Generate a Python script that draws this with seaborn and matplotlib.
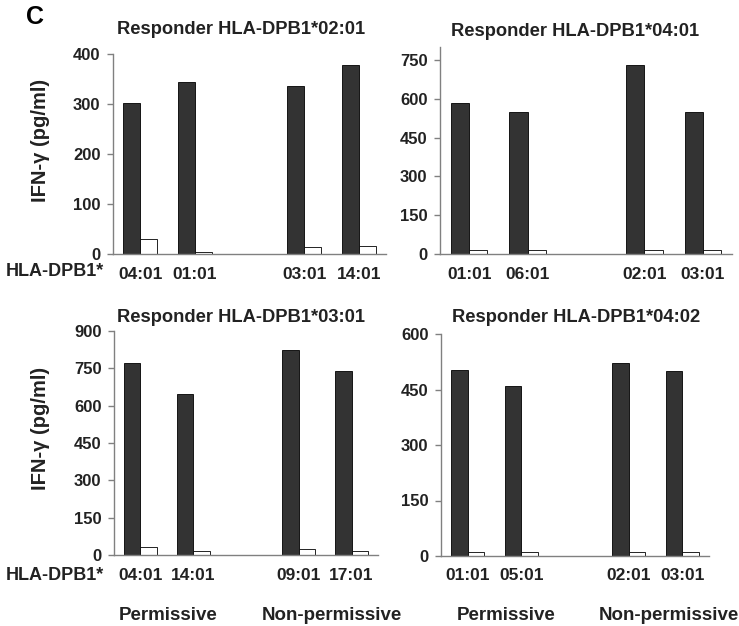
import numpy as np
import pandas as pd
import matplotlib
matplotlib.use("Agg")
import matplotlib.pyplot as plt
import seaborn as sns

# responder panels
titles = ["Responder HLA-DPB1*02:01", "Responder HLA-DPB1*04:01",
          "Responder HLA-DPB1*03:01", "Responder HLA-DPB1*04:02"]

permissive = [["04:01", "01:01"], ["01:01", "06:01"],
              ["04:01", "14:01"], ["01:01", "05:01"]]
non_permissive = [["03:01", "14:01"], ["02:01", "03:01"],
                  ["09:01", "17:01"], ["02:01", "03:01"]]

# dark bars (stimulator) and white bars (control), pg/ml
stim_02_01 = [302, 345, 336, 378]
ctrl_02_01 = [30, 5, 14, 17]
stim_04_01 = [585, 548, 731, 548]
ctrl_04_01 = [15, 15, 15, 15]
stim_03_01 = [772, 645, 823, 738]
ctrl_03_01 = [33, 17, 25, 15]
stim_04_02 = [503, 459, 522, 500]
ctrl_04_02 = [12, 12, 12, 12]

stim = [stim_02_01, stim_04_01, stim_03_01, stim_04_02]
ctrl = [ctrl_02_01, ctrl_04_01, ctrl_03_01, ctrl_04_02]

y_max = [400, 800, 900, 600]
y_ticks = [np.arange(0, 401, 100), np.arange(0, 751, 150),
           np.arange(0, 901, 150), np.arange(0, 601, 150)]

sns.set_style("white")
plt.rcParams['font.family'] = ['Liberation Sans', 'DejaVu Sans']
plt.rcParams['font.weight'] = 'bold'

W, H = 739, 626
fig = plt.figure(figsize=(W / 100, H / 100), dpi=100)

# axes boxes in pixels: left, right, top, bottom
boxes = [(113, 386, 54, 254), (440, 732, 47, 254),
         (114, 378, 331, 555), (441, 709, 334, 556)]
title_pos = [(241, 30), (575, 32), (241, 317), (576, 317)]

txt = '#222222'
grey = '#808080'

for i in range(4):
    l, r, t, b = boxes[i]
    ax = fig.add_axes([l / W, 1 - b / H, (r - l) / W, (b - t) / H])
    order = permissive[i] + [" "] + non_permissive[i]
    alleles = permissive[i] + non_permissive[i]
    df = pd.DataFrame({
        "allele": alleles * 2,
        "cond": ["stim"] * 4 + ["ctrl"] * 4,
        "value": stim[i] + ctrl[i],
    })
    sns.barplot(data=df, x="allele", y="value", hue="cond", order=order,
                hue_order=["stim", "ctrl"], palette=["#333333", "white"],
                edgecolor="black", linewidth=0.6, width=0.62, gap=0,
                legend=False, ax=ax)
    ax.set_xlim(-0.5, 4.5)
    ax.set_ylim(0, y_max[i])
    ax.set_yticks(y_ticks[i])
    ax.set_xlabel("")
    ax.set_ylabel("")
    for s in ["top", "right"]:
        ax.spines[s].set_visible(False)
    for s in ["left", "bottom"]:
        ax.spines[s].set_color(grey)
        ax.spines[s].set_linewidth(1.0)
    ax.set_xticks(range(5))
    ax.set_xticklabels(order, fontsize=12.5, fontweight='bold', color=txt)
    ax.set_xticks(np.arange(-0.5, 5, 1), minor=True)
    ax.tick_params(axis='x', which='major', length=0, pad=9)
    ax.tick_params(axis='x', which='minor', length=4, color=grey, width=1,
                   direction='out')
    ax.tick_params(axis='y', length=4, color=grey, width=1, pad=5,
                   labelsize=12, labelcolor=txt, left=True)
    for lab in ax.get_yticklabels():
        lab.set_fontweight('bold')

    tx, ty = title_pos[i]
    fig.text(tx / W, 1 - ty / H, titles[i], ha='center', va='center',
             fontsize=13.2, fontweight='bold', color=txt)

    if i >= 2:
        x_perm = [0.52, 0.71][i - 2]
        x_non = [3.63, 3.75][i - 2]
        trans = matplotlib.transforms.blended_transform_factory(
            ax.transData, fig.transFigure)
        ax.text(x_perm, 1 - 615 / H, "Permissive", transform=trans,
                ha='center', va='center', fontsize=13.5,
                fontweight='bold', color=txt)
        ax.text(x_non, 1 - 615 / H, "Non-permissive", transform=trans,
                ha='center', va='center', fontsize=13.5,
                fontweight='bold', color=txt)

# row labels
for yc in [140, 428]:
    fig.text(40 / W, 1 - yc / H, "IFN-γ (pg/ml)", rotation=90,
             ha='center', va='center', fontsize=14.5, fontweight='bold',
             color=txt)
for yc in [272, 576]:
    fig.text(6 / W, 1 - yc / H, "HLA-DPB1*", ha='left', va='center',
             fontsize=13, fontweight='bold', color=txt)

fig.text(35 / W, 1 - 17 / H, "C", ha='center', va='center',
         fontsize=18, fontweight='bold', color='black')

fig.savefig("out.png", dpi=100)
